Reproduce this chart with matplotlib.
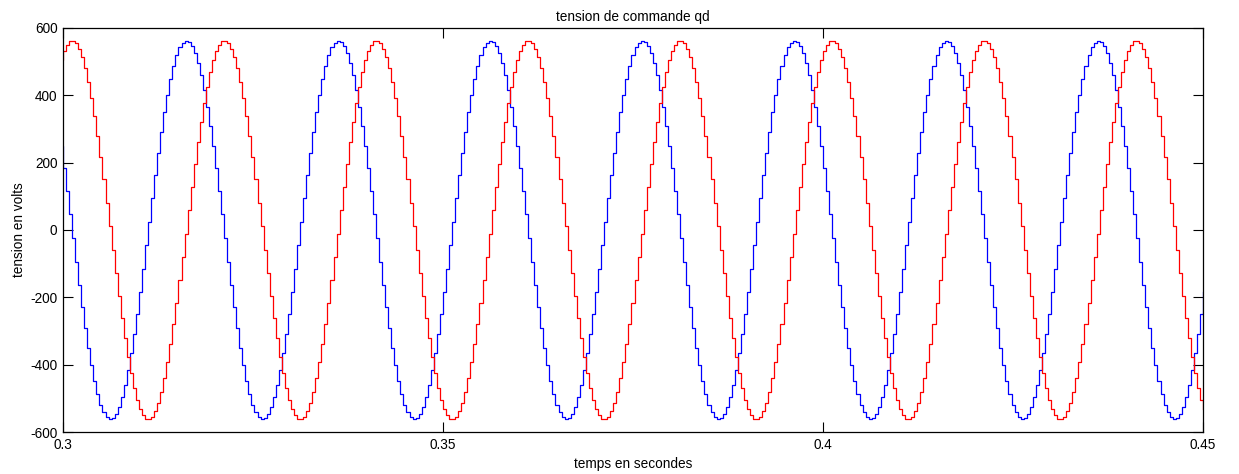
import numpy as np
import matplotlib
matplotlib.use('Agg')
import matplotlib.pyplot as plt

# one period (50 samples, Ts = 0.4 ms) of each held signal, starting at t = 0.3 s
blue_period = [184, 116, 46, -25, -95, -164, -230, -292, -350, -402,
               -448, -487, -519, -542, -556, -562,
               -559, -547, -526, -497, -461, -417, -366, -310, -249,
               -184, -116, -46, 25, 95, 164, 230, 292, 350, 402,
               448, 487, 519, 542, 556, 562,
               559, 547, 526, 497, 461, 417, 366, 310, 249]
red_period = [531, 550, 560,
              561, 554, 538, 513, 480, 440, 392, 339, 280, 217,
              150, 81, 11, -60, -129, -197, -261, -322, -377, -426,
              -469, -504, -531, -550, -560,
              -561, -554, -538, -513, -480, -440, -392, -339, -280, -217,
              -150, -81, -11, 60, 129, 197, 261, 322, 377, 426, 469, 504]

t_start = 0.3
t_end = 0.45
Ts = 0.0004

xticks = [0.3, 0.35, 0.4, 0.45]
xtick_labels = ['0.3', '0.35', '0.4', '0.45']
yticks = [-600, -400, -200, 0, 200, 400, 600]

# sample instants, one sample before the window so the first edge shows
n = int(round((t_end - t_start) / Ts)) + 1
k = np.arange(-1, n)
t = t_start + k * Ts
blue = np.array(blue_period)[k % len(blue_period)]
red = np.array(red_period)[k % len(red_period)]

plt.rcParams['font.family'] = ['Liberation Sans', 'DejaVu Sans']
plt.rcParams['axes.unicode_minus'] = False

fig = plt.figure(figsize=(12.39, 4.74), dpi=100)
ax = fig.add_axes([0.0508, 0.0886, 0.9202, 0.8524])

ax.step(t, blue, where='post', color='#0000ff', lw=0.9)
ax.step(t, red, where='post', color='#ff0000', lw=0.9)

ax.set_xlim(t_start, t_end)
ax.set_ylim(-600, 600)
ax.set_xticks(xticks)
ax.set_xticklabels(xtick_labels)
ax.set_yticks(yticks)
ax.tick_params(direction='in', length=7.5, width=0.8, labelsize=9.8,
               top=True, right=True, pad=4)
for s in ax.spines.values():
    s.set_linewidth(0.9)

ax.set_title('tension de commande qd', fontsize=9.8, pad=5)
ax.set_xlabel('temps en secondes', fontsize=9.8, labelpad=4)
ax.set_ylabel('tension en volts', fontsize=9.8, labelpad=3)

fig.savefig('out.png', dpi=100)
plt.close(fig)
